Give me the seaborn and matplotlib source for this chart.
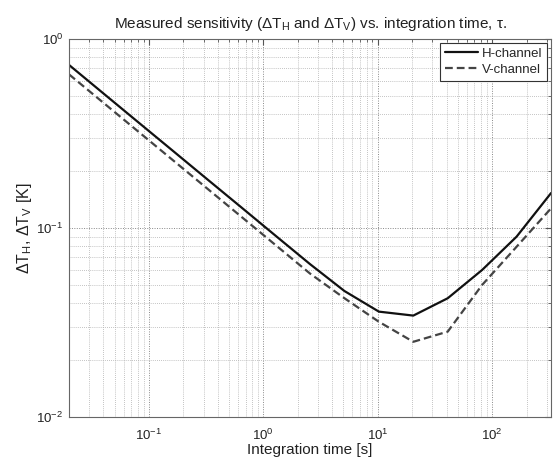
import numpy as np
import pandas as pd
import matplotlib
matplotlib.use("Agg")
import matplotlib.pyplot as plt
import seaborn as sns
from matplotlib.ticker import LogLocator, LogFormatterSciNotation, NullFormatter

tau = [0.02, 0.04, 0.08, 0.16, 0.32, 0.64, 1.28, 2.56, 5.12, 10.24, 20.48, 40.96, 81.92, 163.84, 327.68]
h_channel = [0.729, 0.515, 0.364, 0.2575, 0.182, 0.1288, 0.0910, 0.0644, 0.0464, 0.0361, 0.0344, 0.0425, 0.060, 0.090, 0.153]
v_channel = [0.650, 0.4595, 0.325, 0.2298, 0.1625, 0.1149, 0.0812, 0.0574, 0.0425, 0.0319, 0.0250, 0.0283, 0.050, 0.0796, 0.127]
series_names = ["H-channel", "V-channel"]

df = pd.DataFrame({
    "tau": tau * 2,
    "dT": h_channel + v_channel,
    "channel": [series_names[0]] * len(tau) + [series_names[1]] * len(tau),
})

sns.set_style("white")
plt.rcParams["font.family"] = ["Liberation Sans", "DejaVu Sans"]
plt.rcParams["mathtext.default"] = "regular"

fig = plt.figure(figsize=(5.58, 4.62), dpi=100)
ax = fig.add_axes([0.1237, 0.0974, 0.8638, 0.8182])

sns.lineplot(data=df, x="tau", y="dT", hue="channel", style="channel",
             palette={"H-channel": "#111111", "V-channel": "#444444"},
             dashes={"H-channel": "", "V-channel": (3.5, 1.8)},
             linewidth=1.6, ax=ax, legend=True)

ax.set_xscale("log")
ax.set_yscale("log")
ax.set_xlim(0.02, 327.68)
ax.set_ylim(1e-2, 1e0)

ax.xaxis.set_major_locator(LogLocator(base=10, numticks=20))
ax.xaxis.set_minor_locator(LogLocator(base=10, subs=np.arange(2, 10), numticks=20))
ax.yaxis.set_major_locator(LogLocator(base=10, numticks=20))
ax.yaxis.set_minor_locator(LogLocator(base=10, subs=np.arange(2, 10), numticks=20))
ax.xaxis.set_major_formatter(LogFormatterSciNotation())
ax.yaxis.set_major_formatter(LogFormatterSciNotation())
ax.xaxis.set_minor_formatter(NullFormatter())
ax.yaxis.set_minor_formatter(NullFormatter())

ax.grid(True, which="major", linestyle=(0, (1, 1.5)), color="#888888", linewidth=0.7)
ax.grid(True, which="minor", linestyle=(0, (1, 1.5)), color="#b0b0b0", linewidth=0.6)

ax.tick_params(which="both", direction="in", top=True, right=True, colors="#555555",
               labelcolor="#222222", labelsize=9.5)
ax.tick_params(axis="x", which="major", pad=8)
ax.tick_params(axis="y", which="major", pad=4)
ax.tick_params(which="major", length=4)
ax.tick_params(which="minor", length=2)
for s in ax.spines.values():
    s.set_color("#666666")
    s.set_linewidth(0.8)

ax.set_xlabel("Integration time [s]", fontsize=11, color="#222222", labelpad=0)
ax.set_ylabel(r"$\Delta$T$_H$, $\Delta$T$_V$ [K]", fontsize=11.5, color="#222222", labelpad=2)
ax.set_title(r"Measured sensitivity ($\Delta$T$_H$ and $\Delta$T$_V$) vs. integration time, $\tau$.",
             fontsize=11, color="#222222", pad=8)

leg = ax.legend(loc="upper right", fontsize=9.5, frameon=True, fancybox=False,
                edgecolor="#333333", framealpha=1, borderaxespad=0.3,
                handlelength=2.5, handletextpad=0.3, borderpad=0.35, labelspacing=0.3)
leg.get_frame().set_linewidth(0.8)

fig.savefig("out.png", dpi=100)
